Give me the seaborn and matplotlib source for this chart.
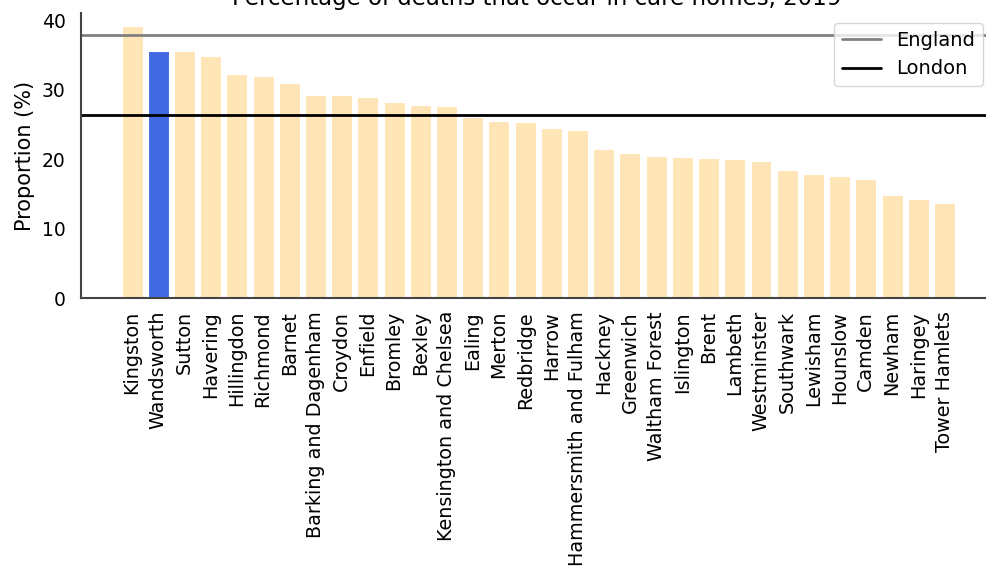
import matplotlib
matplotlib.use("Agg")
import matplotlib.pyplot as plt
import seaborn as sns
import pandas as pd

sns.set_style("white")
plt.rcParams["font.family"] = ["DejaVu Sans"]
plt.rcParams["text.color"] = "black"
plt.rcParams["axes.labelcolor"] = "black"
plt.rcParams["xtick.color"] = "black"
plt.rcParams["ytick.color"] = "black"

# ---------------------------------------------------------------
# Data: % of deaths occurring in care homes, London boroughs 2019
# ---------------------------------------------------------------
boroughs = ["Kingston", "Wandsworth", "Sutton", "Havering", "Hillingdon",
            "Richmond", "Barnet", "Barking and Dagenham", "Croydon", "Enfield",
            "Bromley", "Bexley", "Kensington and Chelsea", "Ealing", "Merton",
            "Redbridge", "Harrow", "Hammersmith and Fulham", "Hackney",
            "Greenwich", "Waltham Forest", "Islington", "Brent", "Lambeth",
            "Westminster", "Southwark", "Lewisham", "Hounslow", "Camden",
            "Newham", "Haringey", "Tower Hamlets"]
proportion = [39.1, 35.6, 35.5, 34.9, 32.3, 32.0, 30.9, 29.3, 29.2, 28.9,
              28.2, 27.8, 27.7, 26.1, 25.5, 25.3, 24.5, 24.2, 21.5, 20.9,
              20.5, 20.3, 20.2, 20.1, 19.8, 18.4, 17.9, 17.6, 17.1, 14.9,
              14.3, 13.7]
england_value = 37.8
london_value = 26.3
highlight = "Wandsworth"

df = pd.DataFrame({"Borough": boroughs, "Proportion": proportion})
palette = {b: ("#4169E1" if b == highlight else "#FFE4B5") for b in boroughs}

fig = plt.figure(figsize=(9.87, 5.69), dpi=100)
ax = fig.add_axes([0.082, 0.4754, 0.924, 0.5016])

sns.barplot(data=df, x="Borough", y="Proportion", hue="Borough",
            palette=palette, saturation=1, legend=False, ax=ax, width=0.8,
            edgecolor="white", linewidth=0.8)

ax.axhline(england_value, color="grey", linewidth=2, label="England")
ax.axhline(london_value, color="black", linewidth=2, label="London")

ax.set_xlim(-1.95, 32.85)
ax.set_ylim(0, 41)
ax.set_yticks([0, 10, 20, 30, 40])
ax.tick_params(axis="y", labelsize=13.5, length=0, pad=11)
ax.tick_params(axis="x", labelsize=13.8, length=0, pad=9, rotation=90)
ax.set_xlabel("")
ax.set_ylabel("Proportion (%)", fontsize=15, labelpad=5)
ax.set_title("Percentage of deaths that occur in care homes, 2019", fontsize=16.5)
ax.legend(loc="upper right", fontsize=14)
sns.despine(ax=ax)
for side in ["left", "bottom"]:
    ax.spines[side].set_color("#444444")
    ax.spines[side].set_linewidth(1.5)

fig.savefig("out.png", dpi=100)
plt.close(fig)
